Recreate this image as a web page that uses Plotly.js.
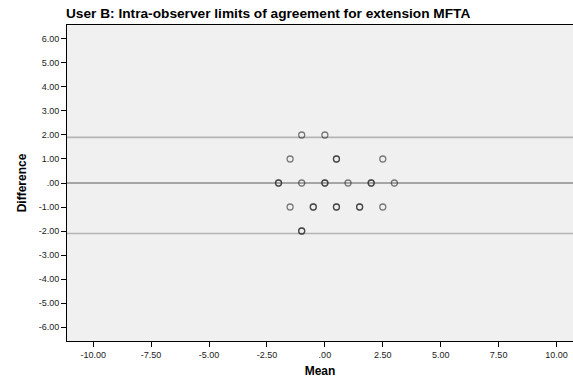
<!DOCTYPE html>
<html><head><meta charset="utf-8">
<script src="https://cdn.plot.ly/plotly-3.0.1.min.js"></script>
<style>html,body{margin:0;padding:0;background:#fff}#chart{width:573px;height:385px}</style>
</head><body><div id="chart"></div>
<script>
// Bland-Altman data: mean of the two measurements and their difference (duplicates repeated)
const meanVals = [-1, 0,
  -1.5, 0.5, 0.5, 2.5,
  -2, -2, -1, 0, 0, 1, 2, 2, 3,
  -1.5, -0.5, -0.5, 0.5, 0.5, 1.5, 1.5, 2.5,
  -1, -1];
const diffVals = [2, 2,
  1, 1, 1, 1,
  0, 0, 0, 0, 0, 0, 0, 0, 0,
  -1, -1, -1, -1, -1, -1, -1, -1,
  -2, -2];
// reference lines: upper limit, mean difference, lower limit
const refLines = [1.90, 0, -2.10];
const refColors = ['#b4b4b4', '#8c8c8c', '#b4b4b4'];
const xTickVals = [-10, -7.5, -5, -2.5, 0, 2.5, 5, 7.5, 10];
const xTickText = ['-10.00', '-7.50', '-5.00', '-2.50', '.00', '2.50', '5.00', '7.50', '10.00'];
const yTickVals = [6, 5, 4, 3, 2, 1, 0, -1, -2, -3, -4, -5, -6];
const yTickText = ['6.00', '5.00', '4.00', '3.00', '2.00', '1.00', '.00', '-1.00', '-2.00', '-3.00', '-4.00', '-5.00', '-6.00'];

const font = 'Arial, "Liberation Sans", sans-serif';
const shapes = refLines.map((v, i) => ({
  type: 'line', xref: 'paper', yref: 'y', x0: 0, x1: 1, y0: v, y1: v,
  line: {color: refColors[i], width: 1.6}, layer: 'below'
}));

const trace = {
  x: meanVals, y: diffVals, type: 'scatter', mode: 'markers',
  marker: {symbol: 'circle-open', size: 6, color: 'rgba(40,40,40,0.6)', line: {width: 1.3}},
  hoverinfo: 'x+y'
};

const layout = {
  width: 573, height: 385,
  margin: {l: 67, r: 0, t: 25, b: 44},
  paper_bgcolor: '#ffffff', plot_bgcolor: '#f0f0f0',
  showlegend: false,
  title: {text: '<b>User B: Intra-observer limits of agreement for extension MFTA</b>',
          font: {family: font, size: 13.7, color: '#000'}, x: 0.468, xanchor: 'center', y: 0.978, yanchor: 'top'},
  xaxis: {range: [-11.13, 10.71], tickvals: xTickVals, ticktext: xTickText,
          showgrid: false, zeroline: false, showline: true, mirror: true, linecolor: '#000', linewidth: 1,
          ticks: 'outside', ticklen: 5, tickcolor: '#000',
          tickfont: {family: font, size: 9, color: '#222'},
          title: {text: '<b>Mean</b>', font: {family: font, size: 12, color: '#000'}, standoff: 7}},
  yaxis: {range: [-6.58, 6.58], tickvals: yTickVals, ticktext: yTickText,
          showgrid: false, zeroline: false, showline: true, mirror: false, linecolor: '#000', linewidth: 1,
          ticks: 'outside', ticklen: 5, tickcolor: '#000',
          tickfont: {family: font, size: 9, color: '#222'},
          title: {text: '<b>Difference</b>', font: {family: font, size: 12, color: '#000'}, standoff: 9}},
  shapes: shapes
};
Plotly.newPlot('chart', [trace], layout, {displayModeBar: false, staticPlot: true});
</script></body></html>
